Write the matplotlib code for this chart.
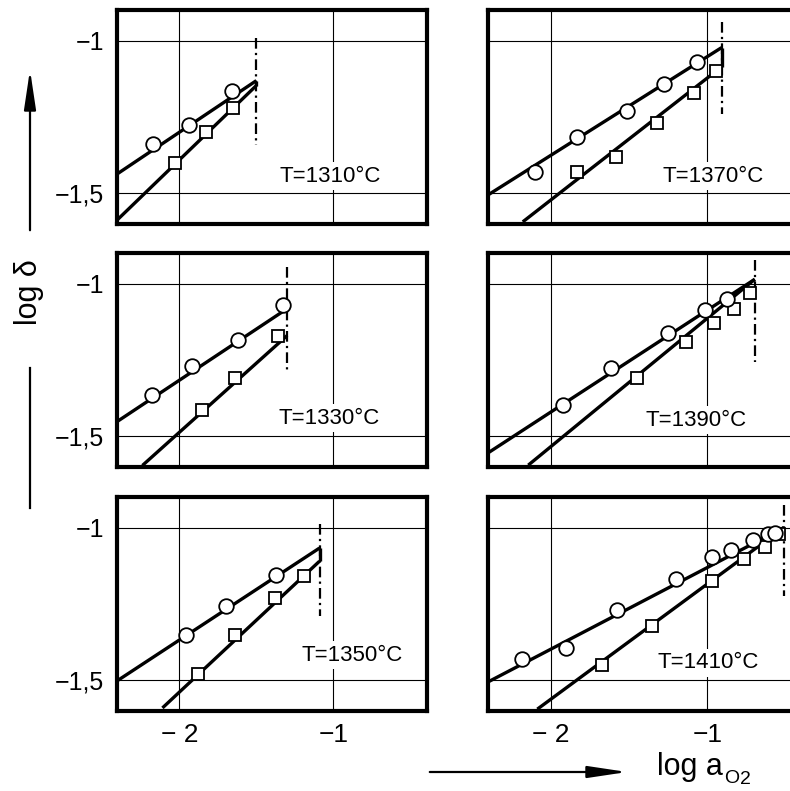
import matplotlib
matplotlib.use('Agg')
import matplotlib.pyplot as plt
from matplotlib.patches import FancyArrowPatch
from matplotlib.lines import Line2D

plt.rcParams['font.family'] = ['Liberation Sans', 'DejaVu Sans']
plt.rcParams['mathtext.fontset'] = 'custom'
plt.rcParams['mathtext.rm'] = 'Liberation Sans'
plt.rcParams['mathtext.it'] = 'Liberation Sans'

# ---------------- data ----------------
temps_left = [1310, 1330, 1350]
temps_right = [1370, 1390, 1410]

# circles (log a_O2, log delta)
circ_x = {1310: [-2.17, -1.935, -1.66],
          1330: [-2.175, -1.92, -1.62, -1.33],
          1350: [-1.96, -1.70, -1.37],
          1370: [-2.10, -1.83, -1.515, -1.276, -1.062],
          1390: [-1.922, -1.617, -1.251, -1.011, -0.873],
          1410: [-2.185, -1.904, -1.574, -1.198, -0.972, -0.845, -0.708, -0.611, -0.565]}
circ_y = {1310: [-1.337, -1.275, -1.165],
          1330: [-1.366, -1.271, -1.183, -1.069],
          1350: [-1.351, -1.255, -1.154],
          1370: [-1.431, -1.317, -1.229, -1.141, -1.070],
          1390: [-1.396, -1.277, -1.162, -1.088, -1.050],
          1410: [-1.430, -1.395, -1.268, -1.169, -1.095, -1.073, -1.040, -1.020, -1.017]}

# squares
sq_x = {1310: [-2.03, -1.83, -1.65],
        1330: [-1.85, -1.64, -1.36],
        1350: [-1.88, -1.64, -1.38, -1.19],
        1370: [-1.83, -1.583, -1.323, -1.083, -0.942],
        1390: [-1.451, -1.135, -0.958, -0.830, -0.728],
        1410: [-1.675, -1.355, -0.968, -0.766, -0.632, -0.542]}
sq_y = {1310: [-1.40, -1.30, -1.22],
        1330: [-1.412, -1.31, -1.173],
        1350: [-1.48, -1.35, -1.229, -1.16],
        1370: [-1.431, -1.380, -1.270, -1.172, -1.101],
        1390: [-1.310, -1.190, -1.129, -1.083, -1.030],
        1410: [-1.450, -1.323, -1.175, -1.103, -1.064, -1.020]}

# fitted lines: start/end points
circ_fit_x0 = {1310: -2.40, 1330: -2.40, 1350: -2.40, 1370: -2.40, 1390: -2.40, 1410: -2.40}
circ_fit_y0 = {1310: -1.435, 1330: -1.45, 1350: -1.50, 1370: -1.505, 1390: -1.554, 1410: -1.505}
sq_fit_x0 = {1310: -2.40, 1330: -2.24, 1350: -2.11, 1370: -2.178, 1390: -2.143, 1410: -2.085}
sq_fit_y0 = {1310: -1.585, 1330: -1.595, 1350: -1.59, 1370: -1.593, 1390: -1.594, 1410: -1.594}
# end of the lines = limit of the stability range (dash-dotted line)
limit_x = {1310: -1.50, 1330: -1.30, 1350: -1.09, 1370: -0.908, 1390: -0.696, 1410: -0.51}
circ_fit_y1 = {1310: -1.131, 1330: -1.082, 1350: -1.067, 1370: -1.023, 1390: -0.986, 1410: -1.000}
sq_fit_y1 = {1310: -1.147, 1330: -1.170, 1350: -1.110, 1370: -1.086, 1390: -0.986, 1410: -1.000}
limit_top = {1310: -0.99, 1330: -0.945, 1350: -0.987, 1370: -0.94, 1390: -0.923, 1410: -0.926}
limit_bot = {1310: -1.34, 1330: -1.285, 1350: -1.288, 1370: -1.24, 1390: -1.258, 1410: -1.224}

# temperature label positions
label_x = {1310: -1.023, 1330: -1.026, 1350: -0.877, 1370: -0.965, 1390: -1.07, 1410: -0.995}
label_y = {1310: -1.444, 1330: -1.441, 1350: -1.418, 1370: -1.443, 1390: -1.447, 1410: -1.442}

xticks = [-2, -1]
xtick_labels = ['\u2212 2', '\u22121']
yticks = [-1, -1.5]
ytick_labels = ['\u22121', '\u22121,5']

# ---------------- figure ----------------
W, H = 790, 791
fig = plt.figure(figsize=(W / 100, H / 100), dpi=100)

col_x0 = [117 / W, 488 / W]
col_xlim = [(-2.405, -0.392), (-2.40, -0.42)]
ax_w = 310 / W
ax_h = 214 / H
row_bottom = [1 - 224 / H, 1 - 467 / H, 1 - 711 / H]

for ci, temps in enumerate([temps_left, temps_right]):
    for ri, T in enumerate(temps):
        ax = fig.add_axes([col_x0[ci], row_bottom[ri], ax_w, ax_h])
        ax.set_xlim(*col_xlim[ci])
        ax.set_ylim(-1.60, -0.90)
        ax.set_xticks(xticks)
        ax.set_yticks(yticks)
        ax.grid(True, color='k', lw=0.8)
        ax.set_axisbelow(True)
        ax.tick_params(length=0, labelsize=18, pad=9)
        if ci == 0:
            ax.set_yticklabels(ytick_labels)
        else:
            ax.set_yticklabels([])
        if ri == 2:
            ax.set_xticklabels(xtick_labels, fontsize=19)
        else:
            ax.set_xticklabels([])
        for s in ax.spines.values():
            s.set_linewidth(3)

        xe = limit_x[T]
        # fit lines
        ax.plot([circ_fit_x0[T], xe], [circ_fit_y0[T], circ_fit_y1[T]],
                color='k', lw=2.4, solid_capstyle='butt', zorder=3)
        ax.plot([sq_fit_x0[T], xe], [sq_fit_y0[T], sq_fit_y1[T]],
                color='k', lw=2.4, solid_capstyle='butt', zorder=3)
        if 0 < circ_fit_y1[T] - sq_fit_y1[T] < 0.07:
            ax.plot([xe, xe], [sq_fit_y1[T], circ_fit_y1[T]],
                    color='k', lw=2.4, solid_capstyle='butt', zorder=3)
        # limit dash-dot
        ax.plot([xe, xe], [limit_top[T], limit_bot[T]], color='k', lw=1.6,
                linestyle=(0, (4.8, 1.9, 1, 1.9)), zorder=2)
        # markers
        ax.plot(circ_x[T], circ_y[T], 'o', ms=10.5, mfc='white', mec='k',
                mew=1.3, zorder=5, clip_on=False)
        ax.plot(sq_x[T], sq_y[T], 's', ms=8, mfc='white', mec='k',
                mew=1.3, zorder=4, clip_on=False)
        ax.text(label_x[T], label_y[T], f'T={T}\u00b0C', fontsize=16,
                ha='center', va='center', zorder=6,
                bbox=dict(facecolor='white', edgecolor='none', pad=2.5))

# overlay axes for figure-level annotations
ov = fig.add_axes([0, 0, 1, 1], facecolor='none')
ov.set_axis_off()
ov.set_xlim(0, 1)
ov.set_ylim(0, 1)

fig.text(29 / W, 1 - 292 / H, 'log \u03b4', rotation=90, fontsize=22,
         ha='center', va='center')
fig.add_artist(FancyArrowPatch((30 / W, 1 - 233 / H), (30 / W, 1 - 67 / H),
                               transform=fig.transFigure,
                               arrowstyle='-|>,head_length=1.2,head_width=0.18',
                               mutation_scale=20, lw=1.6, color='k'))
fig.add_artist(Line2D([30 / W, 30 / W], [1 - 368 / H, 1 - 508 / H],
                      transform=fig.transFigure, lw=1.6, color='k'))

fig.add_artist(FancyArrowPatch((427 / W, 1 - 772 / H), (630 / W, 1 - 772 / H),
                               transform=fig.transFigure,
                               arrowstyle='-|>,head_length=1.2,head_width=0.18',
                               mutation_scale=20, lw=1.6, color='k'))
t_main = ov.text(657 / W, 1 - 775 / H, 'log a', fontsize=22,
                 ha='left', va='baseline')
t_o = ov.annotate('O', xy=(1, 0), xycoords=t_main, xytext=(1, -0.6),
                  textcoords='offset points', fontsize=14,
                  ha='left', va='baseline')
ov.annotate('2', xy=(1, 0), xycoords=t_o, xytext=(0.5, 2.2),
            textcoords='offset points', fontsize=14, ha='left', va='baseline')

fig.savefig('out.png', dpi=100)
